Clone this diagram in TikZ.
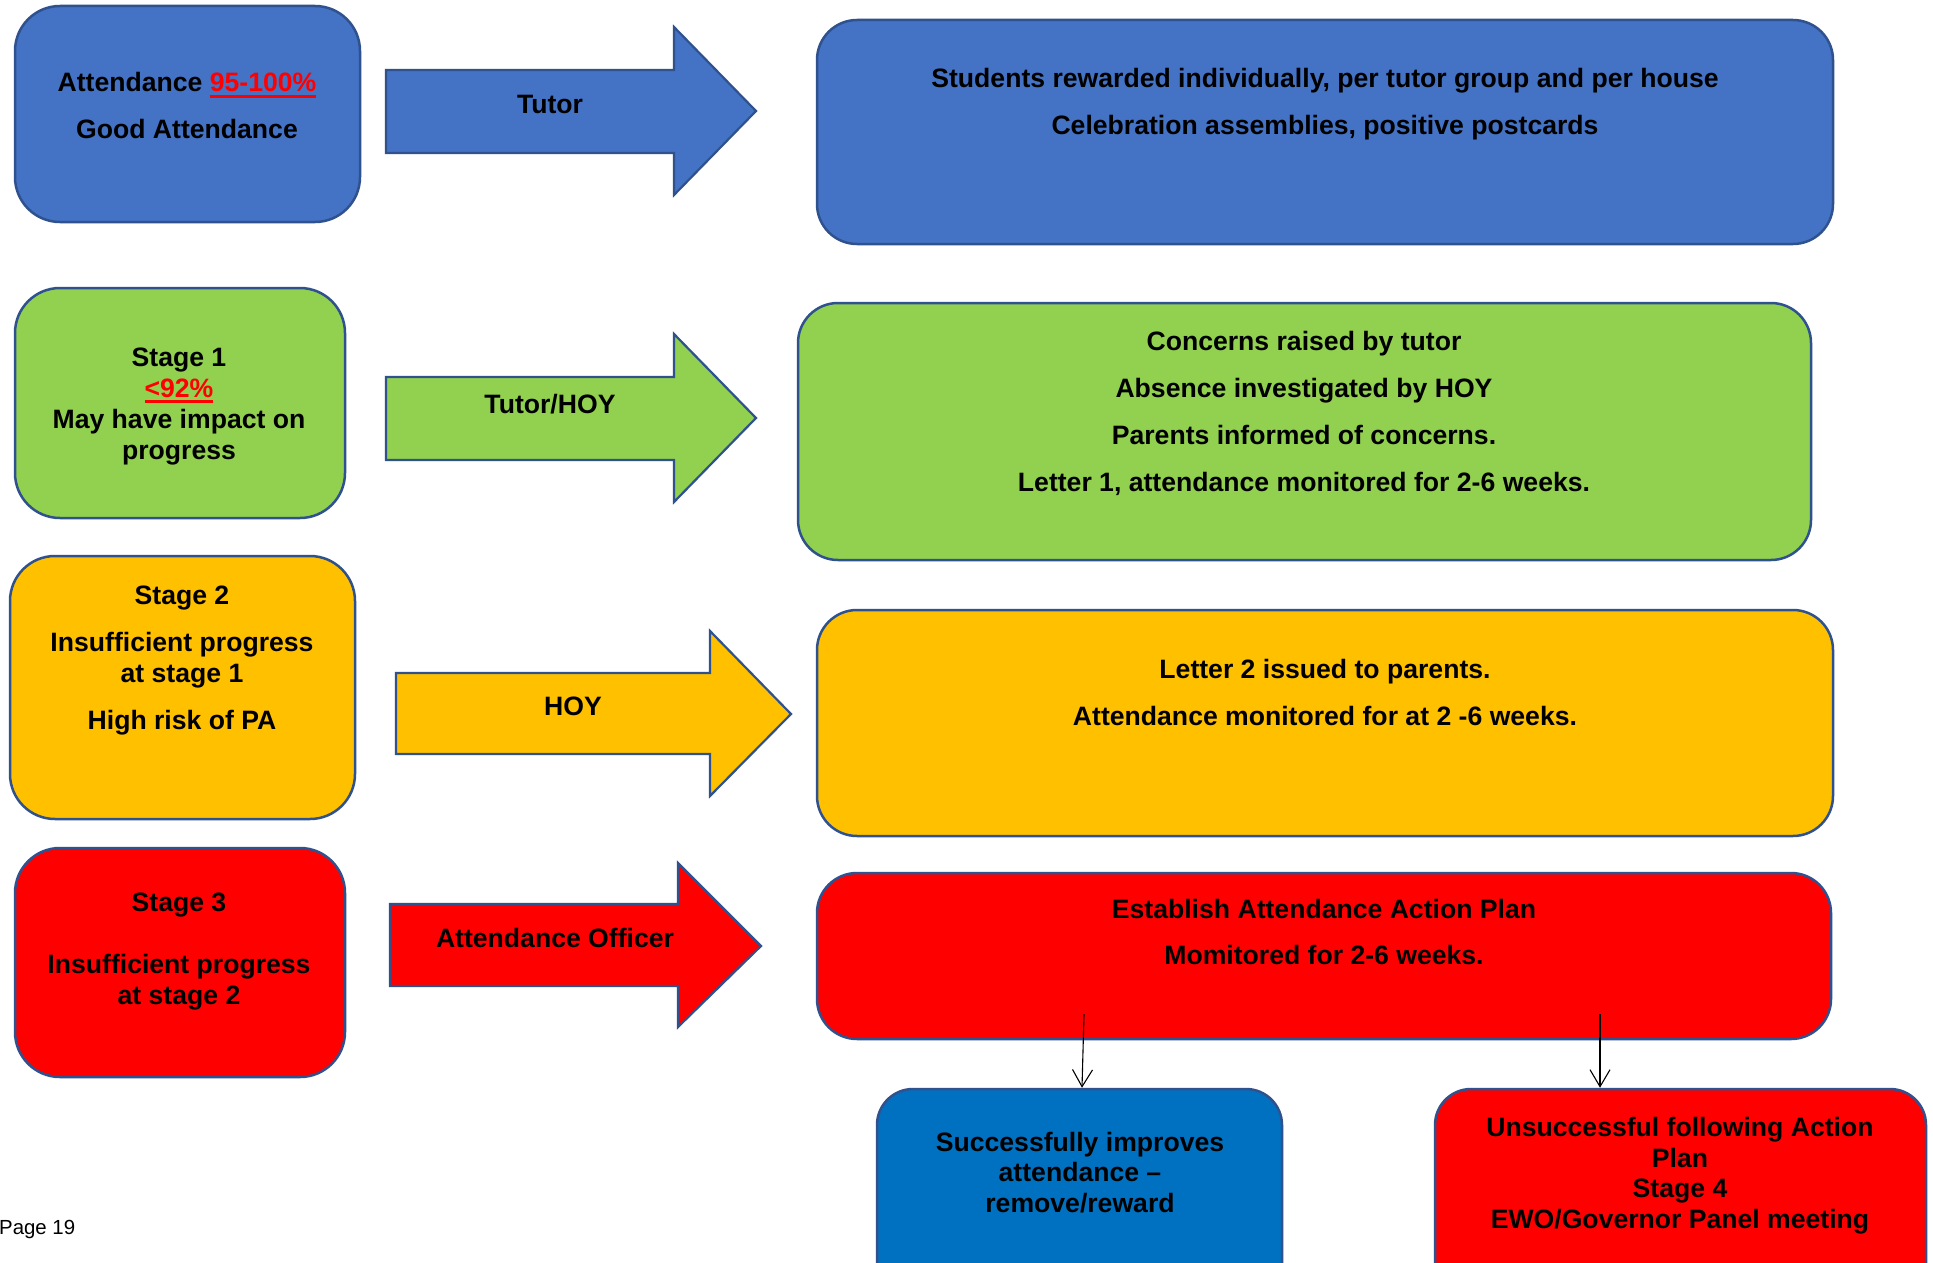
\documentclass[tikz,border=0pt]{standalone}
\usepackage{fontspec}
\setmainfont{Liberation Sans}
\usetikzlibrary{arrows.meta}
\definecolor{blueA}{HTML}{4472C4}
\definecolor{greenA}{HTML}{92D050}
\definecolor{yellowA}{HTML}{FFC000}
\definecolor{redA}{HTML}{FF0000}
\definecolor{blueB}{HTML}{0070C0}
\definecolor{edgeA}{HTML}{2F528F}
\newcommand\myul[1]{\textcolor{redA}{\setbox0=\hbox{#1}\rlap{\rule[-6pt]{\wd0}{3pt}}\box0}}
\tikzset{
  box/.style={draw=edgeA, line width=2.5pt, rounded corners=#1, inner sep=0pt},
  box/.default=45pt,
  blk/.style={draw=edgeA, line width=2.2pt, line join=miter},
  txt/.style={anchor=base, inner sep=0pt, align=center},
  conn/.style={draw=black, line width=1.1pt, -{Straight Barb[length=17pt,width=20pt,line width=1.1pt]}}
}
\begin{document}
\begin{tikzpicture}[x=1pt, y=-1pt, font=\fontsize{26.6}{31}\selectfont\bfseries]
\useasboundingbox (0,0) rectangle (1933,1263);
\clip (0,0) rectangle (1933,1263);
\fill[white] (0,0) rectangle (1933,1263);

% left boxes
\node[box, fill=blueA, minimum width=345pt, minimum height=216pt] (b1) at (187.5,114) {};
\node[box, fill=greenA, minimum width=330pt, minimum height=230pt] (b2) at (180,403) {};
\node[box, fill=yellowA, minimum width=345pt, minimum height=263pt] (b3) at (182.5,687.5) {};
\node[box, fill=redA, minimum width=330pt, minimum height=229pt] (b4) at (180,962.5) {};

% right boxes
\node[box=40pt, fill=blueA, minimum width=1016pt, minimum height=224pt] (r1) at (1325,132) {};
\node[box=40pt, fill=greenA, minimum width=1013pt, minimum height=257pt] (r2) at (1304.5,431.5) {};
\node[box=40pt, fill=yellowA, minimum width=1016pt, minimum height=226pt] (r3) at (1325,723) {};
\node[box=40pt, fill=redA, minimum width=1014pt, minimum height=166pt] (r4) at (1324,956) {};

% bottom boxes
\node[box=36pt, fill=blueB, minimum width=405pt, minimum height=230pt] (s) at (1079.5,1204) {};
\node[box=36pt, fill=redA, minimum width=491pt, minimum height=230pt] (f) at (1680.5,1204) {};

% block arrows
\path[blk, fill=blueA] (386,70) -- (674,70) -- (674,27) -- (756,111) -- (674,195) -- (674,153) -- (386,153) -- cycle;
\path[blk, fill=greenA] (386,377) -- (674,377) -- (674,334) -- (756,418) -- (674,502) -- (674,460) -- (386,460) -- cycle;
\path[blk, fill=yellowA] (396,673) -- (710,673) -- (710,631) -- (791,714) -- (710,796) -- (710,754) -- (396,754) -- cycle;
\path[blk, fill=redA] (390,904) -- (678,904) -- (678,863) -- (761,946) -- (678,1027) -- (678,986) -- (390,986) -- cycle;

% texts: box 1
\node[txt] (t1a) at (187,92) {Attendance \myul{95-100\%}};
\node[txt] (t1b) at (187,138) {Good Attendance};
\node[txt] (a1) at (550,113) {Tutor};
\node[txt] (u1a) at (1325,88) {Students rewarded individually, per tutor group and per house};
\node[txt] (u1b) at (1325,134) {Celebration assemblies, positive postcards};

% box 2
\node[txt] (t2a) at (179,366) {Stage 1};
\node[txt] (t2b) at (179,397) {\myul{<92\%}};
\node[txt] (t2c) at (179,428) {May have impact on};
\node[txt] (t2d) at (179,459) {progress};
\node[txt] (a2) at (550,413) {Tutor/HOY};
\node[txt] (u2a) at (1304,350) {Concerns raised by tutor};
\node[txt] (u2b) at (1304,397) {Absence investigated by HOY};
\node[txt] (u2c) at (1304,444) {Parents informed of concerns.};
\node[txt] (u2d) at (1304,491) {Letter 1, attendance monitored for 2-6 weeks.};

% box 3
\node[txt] (t3a) at (182,604) {Stage 2};
\node[txt] (t3b) at (182,651) {Insufficient progress};
\node[txt] (t3c) at (182,682) {at stage 1};
\node[txt] (t3d) at (182,729) {High risk of PA};
\node[txt] (a3) at (573,715) {HOY};
\node[txt] (u3a) at (1325,678) {Letter 2 issued to parents.};
\node[txt] (u3b) at (1325,725) {Attendance monitored for at 2 -6 weeks.};

% box 4
\node[txt] (t4a) at (179,911) {Stage 3};
\node[txt] (t4b) at (179,973) {Insufficient progress};
\node[txt] (t4c) at (179,1004) {at stage 2};
\node[txt] (a4) at (555,947) {Attendance Officer};
\node[txt] (u4a) at (1324,918) {Establish Attendance Action Plan};
\node[txt] (u4b) at (1324,964) {Momitored for 2-6 weeks.};

% bottom texts
\node[txt] (sa) at (1080,1151) {Successfully improves};
\node[txt] (sb) at (1080,1181) {attendance –};
\node[txt] (sc) at (1080,1212) {remove/reward};
\node[txt] (fa) at (1680,1136) {Unsuccessful following Action};
\node[txt] (fb) at (1680,1167) {Plan};
\node[txt] (fc) at (1680,1197) {Stage 4};
\node[txt] (fd) at (1680,1228) {EWO/Governor Panel meeting};

% connectors
\coordinate (c1) at (1084,1014);
\coordinate (c2) at (1600,1014);
\draw[conn] (c1) -- ([xshift=2.5pt]s.north);
\draw[conn] (c2) -- (c2 |- f.north);

% page number
\node[anchor=base west, inner sep=0pt, font=\fontsize{20.4}{24}\selectfont] (pg) at (-1,1234) {Page 19};
\end{tikzpicture}
\end{document}
